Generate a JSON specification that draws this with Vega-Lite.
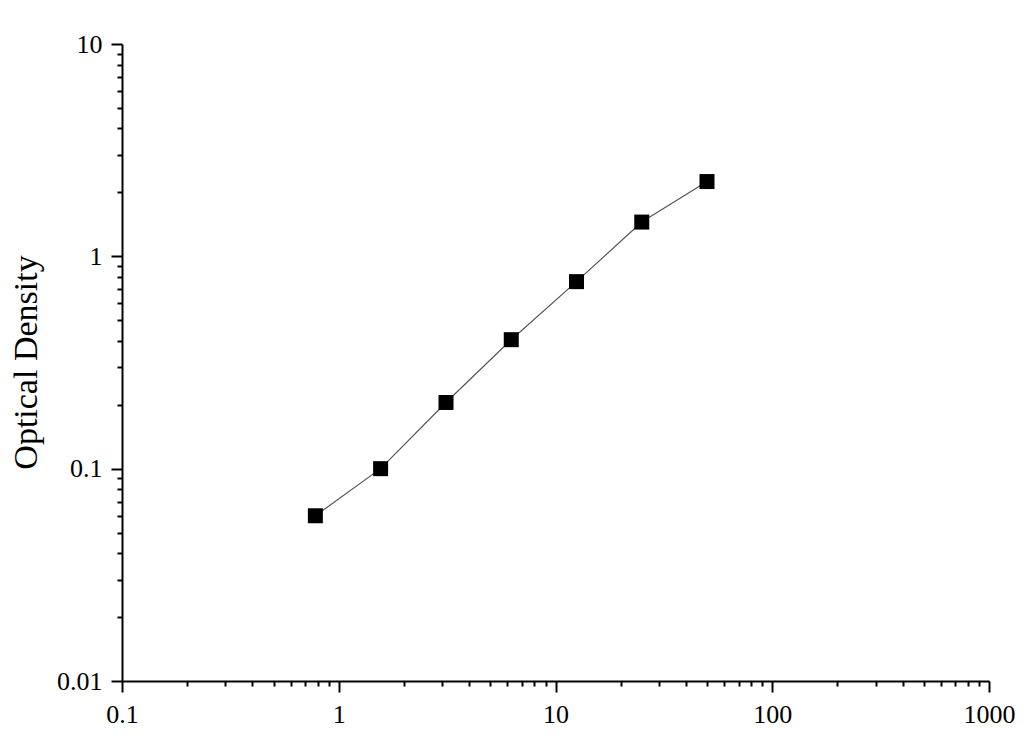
{
  "$schema": "https://vega.github.io/schema/vega-lite/v6.json",
  "width": 867,
  "height": 637,
  "autosize": {"type": "none"},
  "padding": {"left": 122, "top": 44, "right": 42, "bottom": 63},
  "background": "white",
  "data": {
    "values": [
      {"conc": 0.78, "od": 0.06},
      {"conc": 1.56, "od": 0.1},
      {"conc": 3.125, "od": 0.205},
      {"conc": 6.25, "od": 0.405},
      {"conc": 12.5, "od": 0.76},
      {"conc": 25, "od": 1.45},
      {"conc": 50, "od": 2.25}
    ]
  },
  "config": {
    "view": {"stroke": null},
    "axis": {
      "grid": false,
      "domainColor": "black",
      "domainWidth": 2,
      "tickColor": "black",
      "tickWidth": 2,
      "tickSize": {
        "condition": {"test": "abs(log(datum.value)/LN10 - round(log(datum.value)/LN10)) < 1e-6", "value": 11},
        "value": 5
      },
      "labelFont": "Liberation Serif",
      "labelFontSize": 26,
      "labelColor": "black",
      "labelPadding": 9,
      "labelFlush": false,
      "labelExpr": "abs(log(datum.value)/LN10 - round(log(datum.value)/LN10)) < 1e-6 ? format(datum.value, '~g') : ''",
      "labelOverlap": false,
      "titleFont": "Liberation Serif",
      "titleFontWeight": "normal",
      "titleColor": "black"
    }
  },
  "encoding": {
    "x": {
      "field": "conc",
      "type": "quantitative",
      "scale": {"type": "log", "domain": [0.1, 1000], "nice": false},
      "axis": {
        "title": null,
        "values": [0.1, 0.2, 0.3, 0.4, 0.5, 0.6, 0.7, 0.8, 0.9, 1, 2, 3, 4, 5, 6, 7, 8, 9, 10, 20, 30, 40, 50, 60, 70, 80, 90, 100, 200, 300, 400, 500, 600, 700, 800, 900, 1000]
      }
    },
    "y": {
      "field": "od",
      "type": "quantitative",
      "scale": {"type": "log", "domain": [0.01, 10], "nice": false},
      "axis": {
        "title": "Optical Density",
        "titleFontSize": 34,
        "titleX": -96,
        "titleY": 318,
        "titleBaseline": "middle",
        "titleAlign": "center",
        "values": [0.01, 0.02, 0.03, 0.04, 0.05, 0.06, 0.07, 0.08, 0.09, 0.1, 0.2, 0.3, 0.4, 0.5, 0.6, 0.7, 0.8, 0.9, 1, 2, 3, 4, 5, 6, 7, 8, 9, 10]
      }
    }
  },
  "layer": [
    {"mark": {"type": "line", "color": "#555555", "strokeWidth": 1.2}},
    {"mark": {"type": "point", "shape": "square", "filled": true, "color": "black", "opacity": 1, "size": 225}}
  ]
}
